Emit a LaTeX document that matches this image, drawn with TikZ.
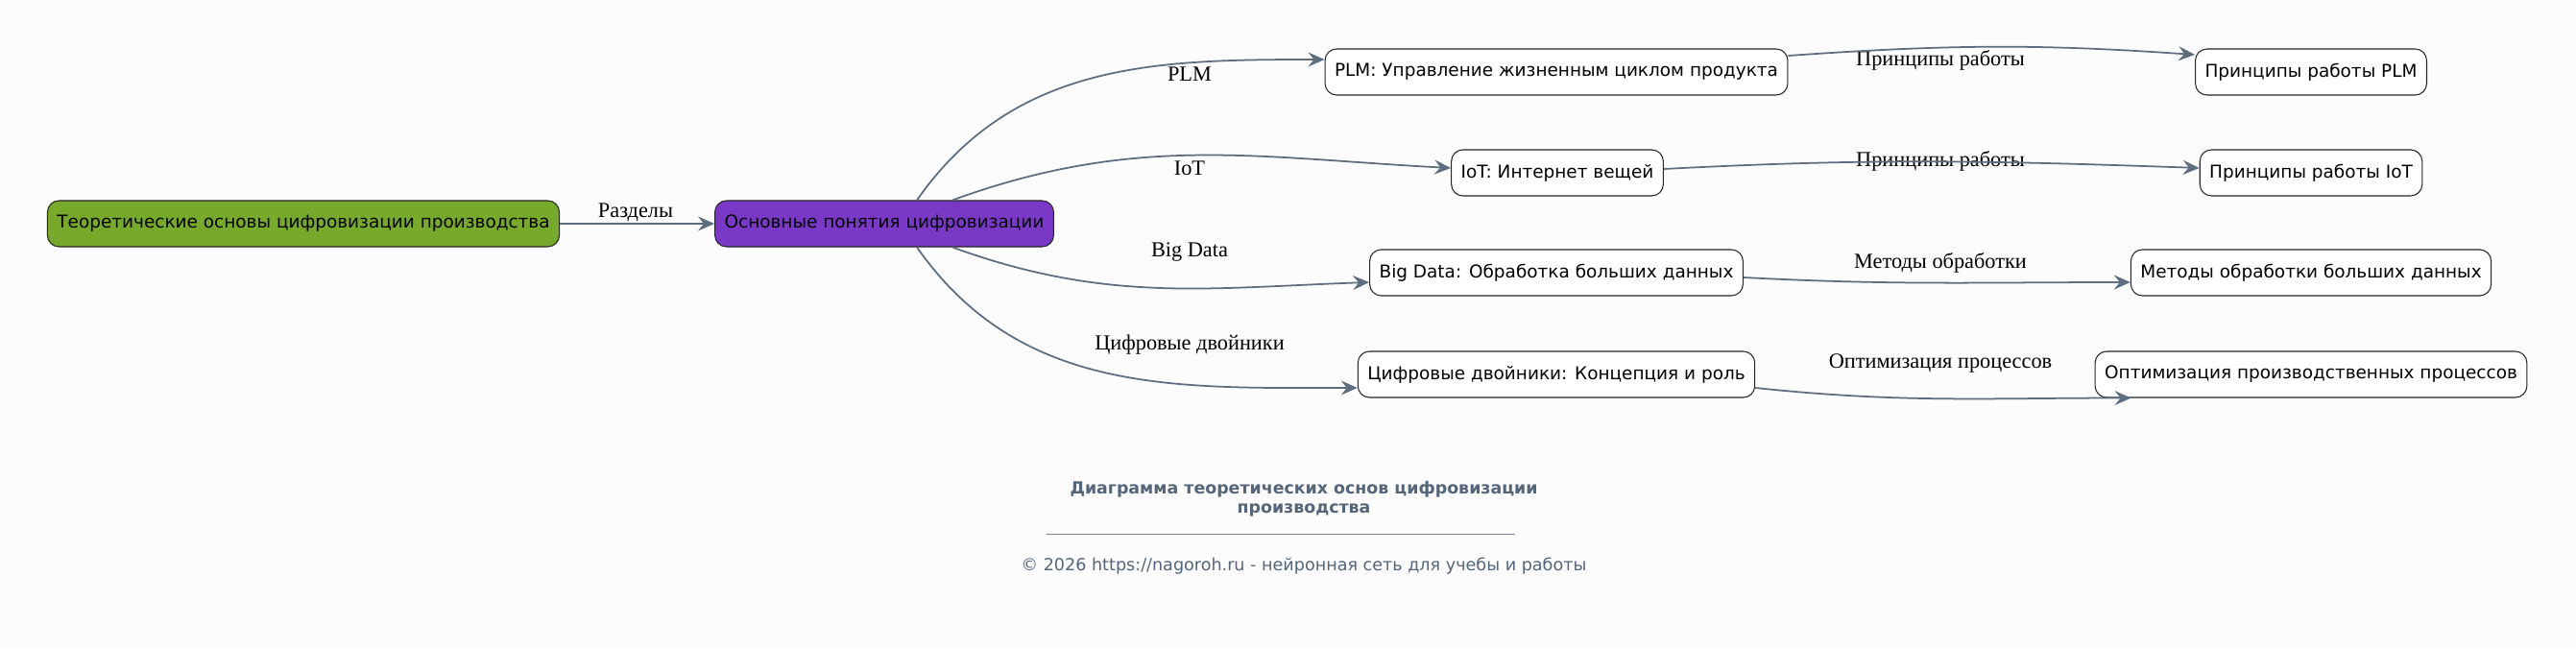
\documentclass[tikz,border=0pt]{standalone}
\usepackage{fontspec}
\setmainfont{Liberation Serif}
\newfontfamily\boxfont{DejaVu Sans}
\usetikzlibrary{arrows.meta}

\definecolor{rootgreen}{HTML}{77A92B}
\definecolor{mainpurple}{HTML}{7A38C6}
\definecolor{linkgray}{HTML}{5F6E7E}
\definecolor{titlegray}{HTML}{55667A}
\definecolor{pagebg}{HTML}{FCFCFD}

\tikzset{
  box/.style={draw=black!85, rounded corners=0.24cm, minimum height=0.96cm,
    inner xsep=0.2cm, fill=white, line width=0.6pt,
    font=\boxfont\fontsize{10.5}{12.5}\selectfont},
  link/.style={draw=linkgray, line width=1pt,
    -{Stealth[length=0.34cm, width=0.3cm, inset=0.12cm]}},
  lbl/.style={font=\fontsize{12.7}{15}\selectfont, inner sep=1pt}
}

\begin{document}
\begin{tikzpicture}

  \fill[pagebg] (0,0) rectangle (53.66,13.5);
  \useasboundingbox (0,0) rectangle (53.66,13.5);

  % main chain
  \node[box, fill=rootgreen]  (root) at (6.32,8.84)  {Теоретические основы цифровизации производства};
  \node[box, fill=mainpurple] (main) at (18.42,8.84) {Основные понятия цифровизации};

  % topics
  \node[box] (plm)   at (32.42,12.0) {PLM: Управление жизненным циклом продукта};
  \node[box] (iot)   at (32.44,9.9)  {IoT: Интернет вещей};
  \node[box] (big)   at (32.42,7.82) {Big Data: Обработка больших данных};
  \node[box] (twins) at (32.42,5.7)  {Цифровые двойники: Концепция и роль};

  % details
  \node[box] (plmwork) at (48.14,12.0) {Принципы работы PLM};
  \node[box] (iotwork) at (48.14,9.9)  {Принципы работы IoT};
  \node[box] (bigproc) at (48.14,7.82) {Методы обработки больших данных};
  \node[box] (optim)   at (48.14,5.7)  {Оптимизация производственных процессов};

  % edge labels
  \node[lbl] (lsect)  at (13.24,9.08) {Разделы};
  \node[lbl] (lplm)   at (24.78,11.96) {PLM};
  \node[lbl] (liot)   at (24.78,10.0) {IoT};
  \node[lbl] (lbig)   at (24.78,8.24) {Big Data};
  \node[lbl] (ltwins) at (24.78,6.32) {Цифровые двойники};
  \node[lbl] (lplmw)  at (40.42,12.24) {Принципы работы};
  \node[lbl] (liotw)  at (40.42,10.14) {Принципы работы};
  \node[lbl] (lbigp)  at (40.42,8.02) {Методы обработки};
  \node[lbl] (lopt)   at (40.42,5.94) {Оптимизация процессов};

  \draw[link] (root) -- (main);

  \draw[link] ([xshift=0.68cm]main.north) to[out=55, in=180] ([yshift=0.26cm]plm.west);
  \draw[link] ([xshift=1.42cm]main.north) to[out=20, in=177] ([yshift=0.1cm]iot.west);
  \draw[link] ([xshift=1.42cm]main.south) to[out=-20, in=182] ([yshift=-0.2cm]big.west);
  \draw[link] ([xshift=0.68cm]main.south) to[out=-55, in=180] ([yshift=-0.28cm]twins.west);

  \draw[link] ([yshift=0.34cm]plm.east) to[out=4, in=176] ([yshift=0.36cm]plmwork.west);
  \draw[link] ([yshift=0.08cm]iot.east) to[out=3, in=178] ([yshift=0.1cm]iotwork.west);
  \draw[link] ([yshift=-0.1cm]big.east) to[out=-3, in=180] ([yshift=-0.2cm]bigproc.west);
  \draw[link] ([yshift=-0.28cm]twins.east) to[out=-6, in=180] ([xshift=0.76cm]optim.south west);

  % caption
  \node[font=\boxfont\bfseries\fontsize{9.9}{11.5}\selectfont, text=titlegray, align=center]
    (title) at (27.16,3.1) {Диаграмма теоретических основ цифровизации\\производства};
  \draw[titlegray!80, line width=0.5pt] (21.8,2.38) -- (31.56,2.38);
  \node[font=\boxfont\fontsize{10}{12}\selectfont, text=titlegray]
    (copy) at (27.16,1.72) {© 2026 https://nagoroh.ru - нейронная сеть для учебы и работы};

\end{tikzpicture}
\end{document}
